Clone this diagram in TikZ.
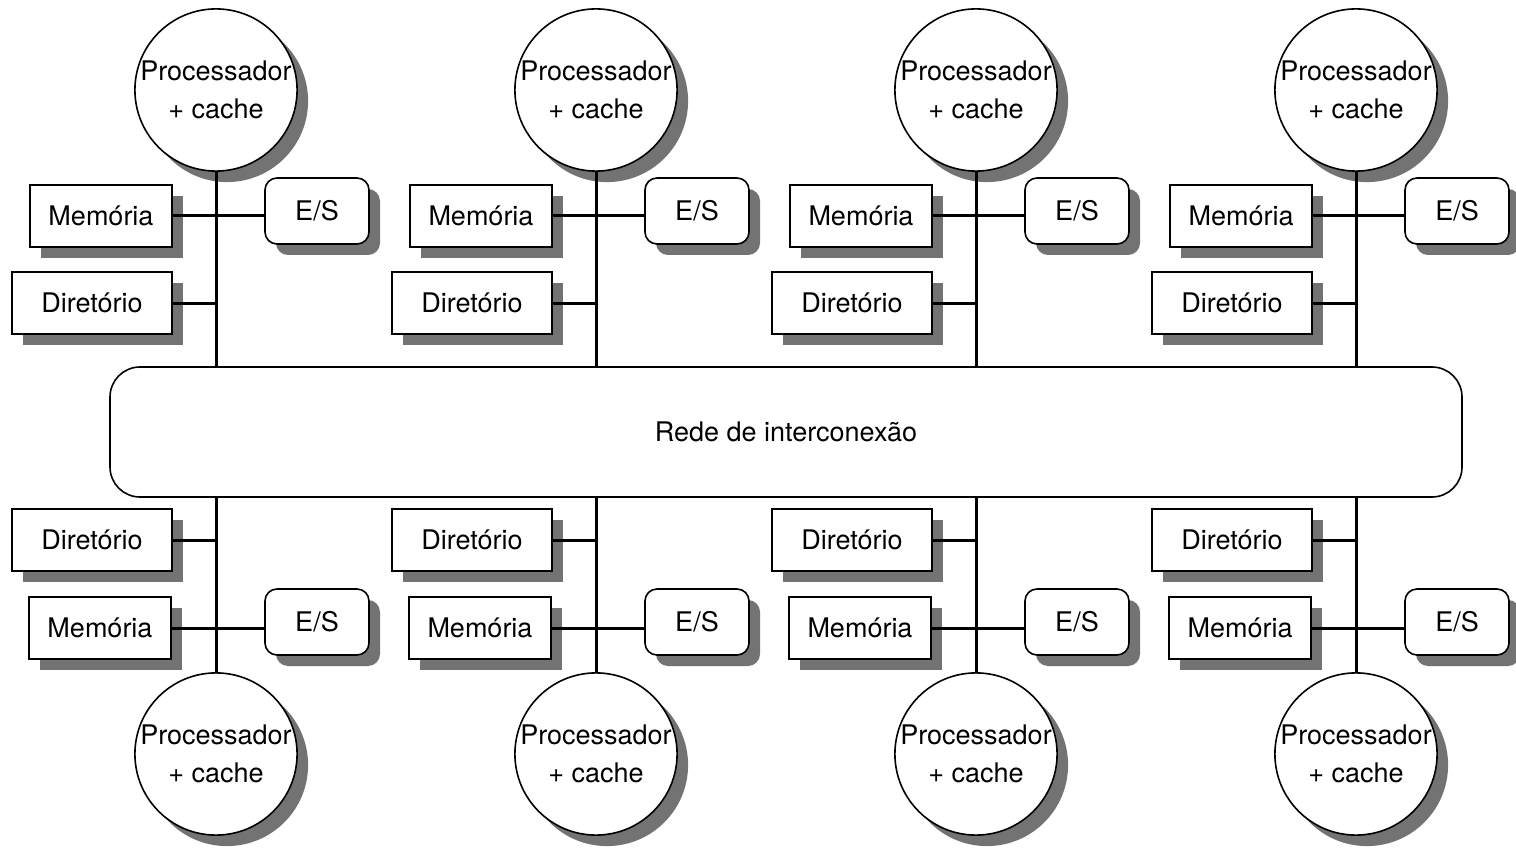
\documentclass[tikz,border=0pt]{standalone}
\usepackage{fontspec}
\setmainfont{TeX Gyre Heros}
\usetikzlibrary{shadows}
\tikzset{
  shad/.style={drop shadow={shadow xshift=11pt, shadow yshift=-11pt, fill=black!55, opacity=1}},
  proc/.style={circle, draw, line width=1.6pt, fill=white, minimum size=162pt, inner sep=0pt,
    align=center, shad, font=\fontsize{27}{38}\selectfont},
  box/.style={rectangle, draw, line width=1.6pt, fill=white, minimum height=62pt, inner sep=0pt,
    shad, font=\fontsize{27}{32}\selectfont},
  membox/.style={box, minimum width=142pt},
  dirbox/.style={box, minimum width=160pt},
  iobox/.style={box, rounded corners=12pt, minimum width=104pt, minimum height=66pt},
  netbox/.style={rectangle, draw, line width=1.6pt, rounded corners=30pt, fill=white,
    minimum width=1352pt, minimum height=130pt, inner sep=0pt, font=\fontsize{27}{32}\selectfont},
  link/.style={line width=3pt},
}
\begin{document}
\begin{tikzpicture}[x=1pt,y=-1pt]
\useasboundingbox (0,0) rectangle (1516,853);
\node[netbox] (net) at (786,432) {Rede de interconexão};
\foreach \cx [count=\i] in {216,596,976,1356} {
  % top cluster
  \node[proc] (pt\i) at (\cx,90) {Processador\\+ cache};
  \node[membox] (mt\i) at (\cx-115,216) {Memória};
  \node[iobox] (et\i) at (\cx+101,211) {E/S};
  \node[dirbox] (dt\i) at (\cx-124,303) {Diretório};
  \draw[link] (pt\i.south) -- (pt\i.south |- net.north);
  \draw[link] (mt\i.east) -- (mt\i.east -| et\i.west);
  \draw[link] (dt\i.east) -- (dt\i.east -| pt\i.south);
  % bottom cluster
  \node[dirbox] (db\i) at (\cx-124,540) {Diretório};
  \node[membox] (mb\i) at (\cx-116,628) {Memória};
  \node[iobox] (eb\i) at (\cx+101,622) {E/S};
  \node[proc] (pb\i) at (\cx,754) {Processador\\+ cache};
  \draw[link] (pb\i.north) -- (pb\i.north |- net.south);
  \draw[link] (mb\i.east) -- (mb\i.east -| eb\i.west);
  \draw[link] (db\i.east) -- (db\i.east -| pb\i.north);
}
\end{tikzpicture}
\end{document}
